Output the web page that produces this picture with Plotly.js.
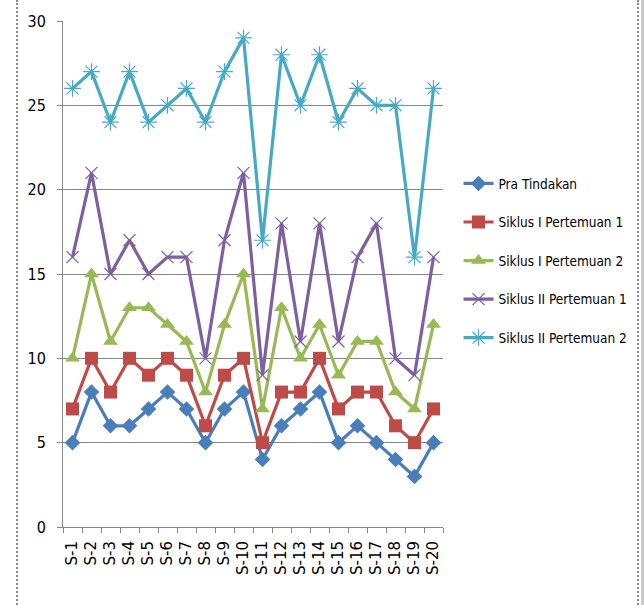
<!DOCTYPE html>
<html><head><meta charset="utf-8">
<script src="https://cdn.plot.ly/plotly-3.0.1.min.js"></script>
<style>
html,body{margin:0;padding:0;background:#fff;}
#wrap{position:relative;width:644px;height:605px;}
#chart{width:644px;height:605px;}
.dl{position:absolute;top:0;height:605px;width:0;border-left:2px dotted #8a8a8a;}
.gb{position:absolute;top:0;height:605px;left:641px;width:3px;background:#c8c8c8;}
</style></head>
<body><div id="wrap"><div id="chart"></div>
<div class="dl" style="left:16px"></div><div class="dl" style="left:637px"></div><div class="gb"></div></div>
<script>
const categories = ["S-1","S-2","S-3","S-4","S-5","S-6","S-7","S-8","S-9","S-10","S-11","S-12","S-13","S-14","S-15","S-16","S-17","S-18","S-19","S-20"];
const praTindakan = [5,8,6,6,7,8,7,5,7,8,4,6,7,8,5,6,5,4,3,5];
const siklus1P1 = [7,10,8,10,9,10,9,6,9,10,5,8,8,10,7,8,8,6,5,7];
const siklus1P2 = [10,15,11,13,13,12,11,8,12,15,7,13,10,12,9,11,11,8,7,12];
const siklus2P1 = [16,21,15,17,15,16,16,10,17,21,9,18,11,18,11,16,18,10,9,16];
const siklus2P2 = [26,27,24,27,24,25,26,24,27,29,17,28,25,28,24,26,25,25,16,26];
const names = ["Pra Tindakan","Siklus I Pertemuan 1","Siklus I Pertemuan 2","Siklus II Pertemuan 1","Siklus II Pertemuan 2"];

const series = [praTindakan, siklus1P1, siklus1P2, siklus2P1, siklus2P2];
const colors = ["#4A7EBB","#BE4B48","#98B954","#7D60A0","#46AAC5"];
const symbols = ["diamond","square","triangle-up","x-thin-open","asterisk-open"];
const sizes = [12,13,13,12,14];

const traces = series.map((s,i)=>({
  x: categories, y: s, name: names[i], type:"scatter", mode:"lines+markers",
  legendgroup: "g"+i,
  line:{color:colors[i], width:3.2},
  marker:{symbol:symbols[i], size:sizes[i], color:colors[i], line:{color:colors[i], width:(i>=3?1.2:0)}}
}));

const narrow = "Liberation Sans Narrow, DejaVu Sans Condensed, Lato, sans-serif";
const layout = {
  width:644, height:605,
  margin:{l:63, r:201, t:21, b:78},
  paper_bgcolor:"#fff", plot_bgcolor:"#fff",
  showlegend:true,
  legend:{xref:"container", yref:"container", x:0.712, y:0.722, xanchor:"left", yanchor:"top", tracegroupgap:18,
    font:{family:narrow, size:13.5, color:"#000"}, bgcolor:"rgba(0,0,0,0)"},
  xaxis:{type:"category", tickangle:-90, tickson:"boundaries", ticks:"outside", ticklen:5, tickcolor:"#868686",
    showline:true, linecolor:"#868686", linewidth:1, showgrid:false, zeroline:false, ticklabelstandoff:7,
    tickfont:{family:"DejaVu Sans, Arial, sans-serif", size:15, color:"#000"}, range:[-0.5,19.5]},
  yaxis:{range:[0,30], dtick:5, ticks:"outside", ticklen:5, tickcolor:"#868686",
    showline:true, linecolor:"#868686", linewidth:1, showgrid:true, gridcolor:"#868686", gridwidth:1, zeroline:false,
    tickfont:{family:narrow, size:16, color:"#000"}, ticklabelstandoff:8}
};
Plotly.newPlot("chart", traces, layout, {displayModeBar:false, staticPlot:true});
</script></body></html>
